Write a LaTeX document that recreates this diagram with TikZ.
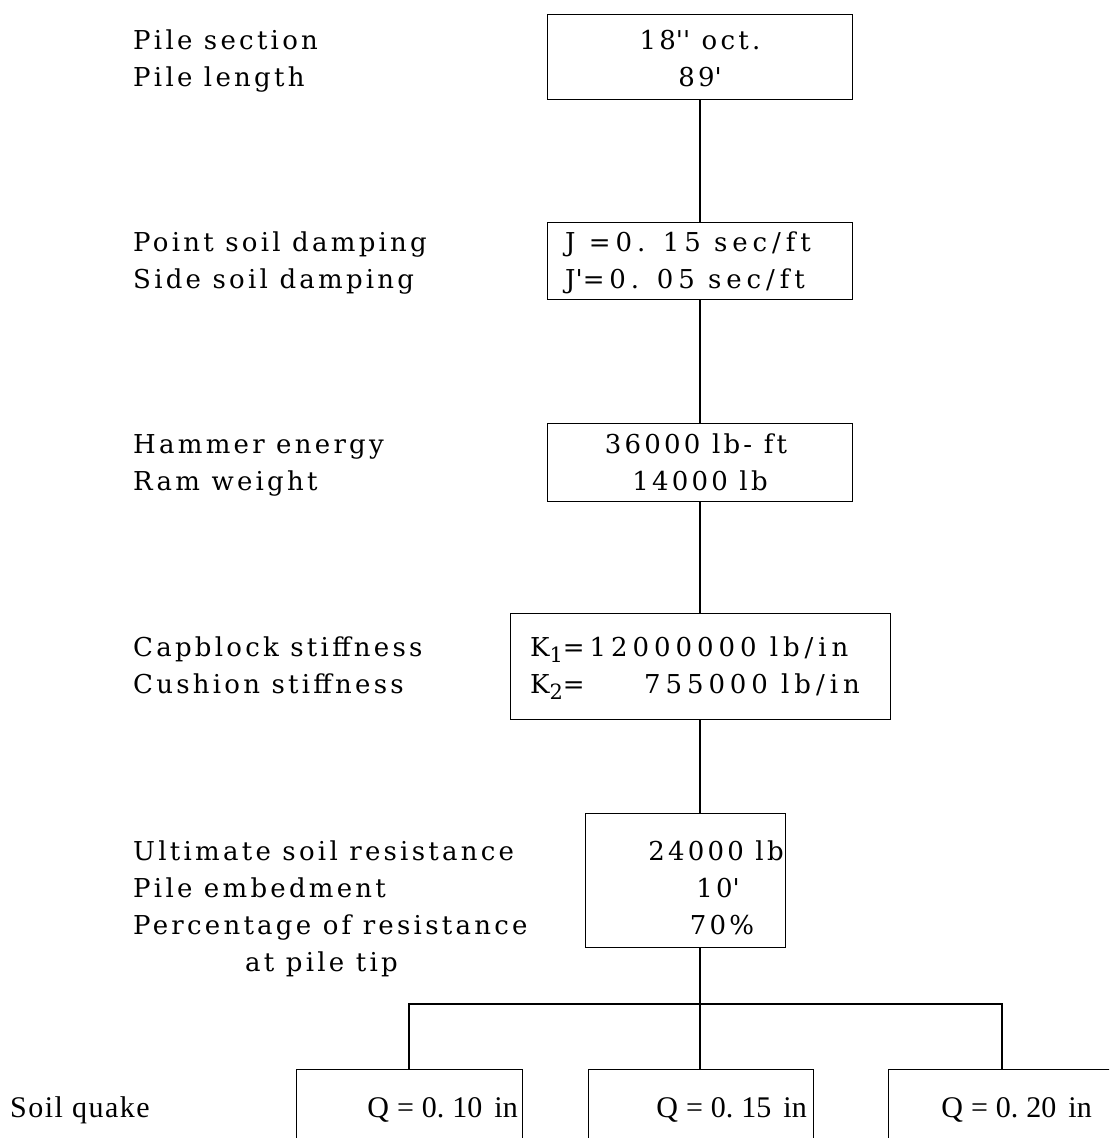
\documentclass[tikz,border=0pt]{standalone}
\usepackage{fontspec}
\setmainfont{DejaVu Serif}[LetterSpace=12.5]
\newfontfamily\widefont{DejaVu Serif}[LetterSpace=19]
\newfontfamily\plainfont{Liberation Serif}
\newfontfamily\quakefont{Liberation Serif}[LetterSpace=5]
\begin{document}
\begin{tikzpicture}[x=1pt,y=-1pt,
  box/.style={draw, line width=1.4pt, inner sep=0pt, anchor=north west},
  conn/.style={line width=1.4pt},
  lbl/.style={anchor=base west, inner sep=0pt, font=\fontsize{26}{26}\selectfont},
  val/.style={anchor=base, inner sep=0pt, font=\fontsize{26}{26}\selectfont},
  valw/.style={anchor=base west, inner sep=0pt, font=\widefont\fontsize{26}{26}\selectfont},
  vale/.style={anchor=base east, inner sep=0pt, font=\widefont\fontsize{26}{26}\selectfont},
  qlbl/.style={anchor=base west, inner sep=0pt, font=\quakefont\fontsize{30}{30}\selectfont},
  qval/.style={anchor=base east, inner sep=0pt, font=\plainfont\fontsize{30}{30}\selectfont}]
\useasboundingbox (0,0) rectangle (1109,1138);
\clip (0,0) rectangle (1109,1138);
\coordinate (sp) at (700,0);
% boxes
\node[box, minimum width=305pt, minimum height=85pt] (b1) at (547,14) {};
\node[box, minimum width=305pt, minimum height=77pt] (b2) at (547,222) {};
\node[box, minimum width=305pt, minimum height=78pt] (b3) at (547,423) {};
\node[box, minimum width=380pt, minimum height=106pt] (b4) at (510,613) {};
\node[box, minimum width=200pt, minimum height=134pt] (b5) at (585,813) {};
\node[box, minimum width=226pt, minimum height=120pt] (q1) at (296,1069) {};
\node[box, minimum width=225pt, minimum height=120pt] (q2) at (588,1069) {};
\node[box, minimum width=226pt, minimum height=120pt] (q3) at (888,1069) {};
% connectors
\draw[conn] (b1.south -| sp) -- (b2.north -| sp);
\draw[conn] (b2.south -| sp) -- (b3.north -| sp);
\draw[conn] (b3.south -| sp) -- (b4.north -| sp);
\draw[conn] (b4.south -| sp) -- (b5.north -| sp);
\coordinate (br) at (700,1004);
\coordinate (bl) at (409,1004);
\coordinate (brr) at (1002,1004);
\draw[conn] (b5.south -| sp) -- (br);
\draw[conn] (q1.north -| bl) -- (bl) -- (brr) -- (q3.north -| brr);
\draw[conn] (br) -- (q2.north -| br);
% labels
\node[lbl] (l1a) at (133,49) {Pile section};
\node[lbl] (l1b) at (133,86) {Pile length};
\node[lbl] (l2a) at (133,251) {Point soil damping};
\node[lbl] (l2b) at (133,288) {Side soil damping};
\node[lbl] (l3a) at (133,453) {Hammer energy};
\node[lbl] (l3b) at (133,490) {Ram weight};
\node[lbl] (l4a) at (133,656) {Capblock stiffness};
\node[lbl] (l4b) at (133,693) {Cushion stiffness};
\node[lbl] (l5a) at (133,860) {Ultimate soil resistance};
\node[lbl] (l5b) at (133,897) {Pile embedment};
\node[lbl] (l5c) at (133,934) {Percentage of resistance};
\node[lbl] (l5d) at (245,971) {at pile tip};
\node[qlbl] (l6) at (10,1117) {Soil quake};
% values
\node[val] (v1a) at (700,49) {18\textquotesingle\textquotesingle\ oct.};
\node[val] (v1b) at (700,86) {89\textquotesingle};
\node[valw] (v2a) at (565,251) {J =0. 15 sec/ft};
\node[valw] (v2b) at (565,288) {J\textquotesingle=0. 05 sec/ft};
\node[val] (v3a) at (696,453) {36000 lb- ft};
\node[val] (v3b) at (700,490) {14000 lb};
\node[valw] (v4a) at (530,656) {K\raisebox{-0.45ex}{\fontsize{21}{21}\selectfont 1}=12000000 lb/in};
\node[valw] (v4b) at (530,693) {K\raisebox{-0.45ex}{\fontsize{21}{21}\selectfont 2}=};
\node[vale] (v4c) at (860,693) {755000 lb/in};
\node[val] (v5a) at (716,860) {24000 lb};
\node[val] (v5b) at (718,897) {10\textquotesingle};
\node[val] (v5c) at (722,934) {70\%};
\node[qval] (qa) at (518,1117) {Q\hspace{8pt}=\hspace{8pt}0.\hspace{8pt}10\hspace{12pt}in};
\node[qval] (qb) at (807,1117) {Q\hspace{8pt}=\hspace{8pt}0.\hspace{8pt}15\hspace{12pt}in};
\node[qval] (qc) at (1092,1117) {Q\hspace{8pt}=\hspace{8pt}0.\hspace{8pt}20\hspace{12pt}in};
\end{tikzpicture}
\end{document}
